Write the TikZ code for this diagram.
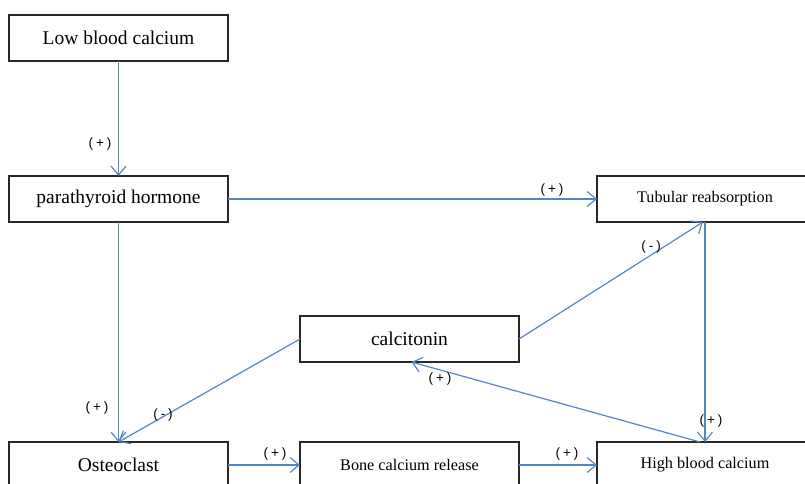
\documentclass[tikz,border=0pt]{standalone}
\usepackage{fontspec}
\setmainfont{Liberation Serif}
\newfontfamily\lblfont{Liberation Sans}
\usetikzlibrary{arrows.meta}
\definecolor{linkblue}{RGB}{84,134,196}
\definecolor{boxline}{RGB}{40,40,40}
\tikzset{
  box/.style={draw=boxline, line width=1.2pt, rectangle, minimum width=219pt, minimum height=46pt, inner sep=0pt, outer sep=0pt, font=\fontsize{19.5}{22}\selectfont},
  smallbox/.style={box, font=\fontsize{16.2}{19}\selectfont},
  link/.style={draw=linkblue, line width=1.2pt, -{Straight Barb[length=9pt,width=15pt,line width=1.2pt]}},
  sign/.style={font=\lblfont\fontsize{13.5}{15}\selectfont, inner sep=0pt, text=black}
}
\newcommand{\plusl}{(\hspace{3pt}+\hspace{3pt})}
\newcommand{\minusl}{(\hspace{3pt}-\hspace{3pt})}
\begin{document}
\begin{tikzpicture}[x=1pt,y=-1pt]
\useasboundingbox (0,0) rectangle (805,483);
\clip (0,0) rectangle (805,483);
\node[box] (low) at (118.5,38) {Low blood calcium};
\node[box] (pth) at (118.5,199) {parathyroid hormone};
\node[smallbox, minimum width=216pt] (tub) at (705,199) {Tubular reabsorption};
\node[box] (calc) at (409.5,339) {calcitonin};
\node[box] (osteo) at (118.5,465) {Osteoclast};
\node[smallbox] (bone) at (409.5,465) {Bone calcium release};
\node[smallbox, minimum width=216pt] (high) at (705,465) {High blood calcium};

\draw[link] (low.south) -- (pth.north);
\draw[link] (pth.east) -- (tub.west);
\draw[link] (pth.south) -- (osteo.north);
\draw[link] (calc.west) -- (osteo.north);
\draw[link] (calc.east) -- ([xshift=-2pt]tub.south);
\draw[link] (tub.south) -- (high.north);
\draw[link] ([xshift=-5pt]high.north) -- ([xshift=2pt]calc.south);
\draw[link] (osteo.east) -- (bone.west);
\draw[link] (bone.east) -- (high.west);

\node[sign] (s1) at (100,144) {\plusl};
\node[sign] (s2) at (552,190) {\plusl};
\node[sign] (s3) at (651,247) {\minusl};
\node[sign] (s4) at (97,408) {\plusl};
\node[sign] (s5) at (163,415) {\minusl};
\node[sign] (s6) at (440,379) {\plusl};
\node[sign] (s7) at (711,421) {\plusl};
\node[sign] (s8) at (275,454) {\plusl};
\node[sign] (s9) at (567,454) {\plusl};
\end{tikzpicture}
\end{document}
